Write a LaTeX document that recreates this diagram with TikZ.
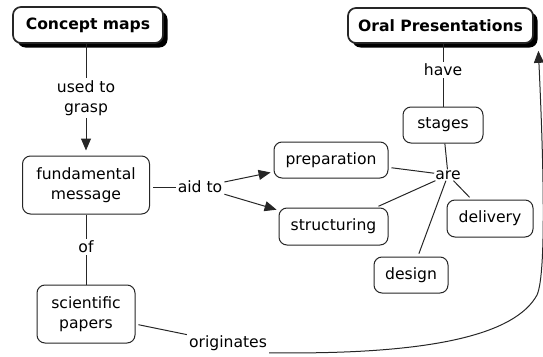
\documentclass[tikz,border=0pt]{standalone}
\usepackage{fontspec}
\setmainfont{DejaVu Sans}
\usetikzlibrary{arrows.meta,shadows,calc}
\begin{document}
\begin{tikzpicture}[x=1pt,y=-1pt,
  font=\fontsize{15.6}{20}\selectfont,
  concept/.style={draw=black!85, line width=1pt, rounded corners=8pt, align=center, inner sep=2pt, fill=white},
  topic/.style={concept, line width=1.7pt, font=\fontsize{15.6}{20}\selectfont\bfseries,
     drop shadow={shadow xshift=4.5pt, shadow yshift=-4.5pt, opacity=1, fill=black}},
  lbl/.style={align=center, inner sep=2pt},
  link/.style={line width=1pt, draw=black!85},
  arr/.style={link, -{Triangle[length=12pt,width=10pt]}}
]
\useasboundingbox (0,0) rectangle (543,356);

% concepts
\node[topic, minimum width=150pt, minimum height=36pt] (cm) at (88,25) {Concept maps};
\node[topic, minimum width=185pt, minimum height=35pt] (op) at (440.5,25.5) {Oral Presentations};
\node[concept, minimum width=80pt, minimum height=36pt] (stages) at (443,125) {stages};
\node[concept, minimum width=127pt, minimum height=58pt] (fm) at (86,185) {fundamental\\message};
\node[concept, minimum width=114pt, minimum height=36pt] (prep) at (331,160) {preparation};
\node[concept, minimum width=109pt, minimum height=37pt] (struct) at (333.5,226.5) {structuring};
\node[concept, minimum width=86pt, minimum height=37pt] (deliv) at (490,218.5) {delivery};
\node[concept, minimum width=74pt, minimum height=36pt] (design) at (411,275) {design};
\node[concept, minimum width=98pt, minimum height=58pt] (sp) at (86,314) {scientific\\papers};

% linking phrases
\node[lbl] (usedto) at (86,98) {used to\\grasp};
\node[lbl] (have) at (443,70) {have};
\node[lbl] (of) at (86,247) {of};
\node[lbl] (aidto) at (200,187) {aid to};
\node[lbl, inner sep=1pt] (are) at (448,175) {are};
\node[lbl] (orig) at (228,343) {originates};

% connectors
\draw[link] (cm.south -| usedto) -- (usedto);
\draw[arr, shorten >=5pt] (usedto) -- (fm);
\draw[link] (op.south -| have) -- (have);
\draw[link] (have) -- (stages);
\draw[link] (fm) -- (of);
\draw[link] (of) -- (sp);
\draw[link, shorten <=3pt] (fm.east |- aidto) -- (aidto);
\draw[arr, shorten >=3pt] (aidto) -- (prep);
\draw[arr, shorten >=2pt] (aidto) -- (struct);
\draw[link] (stages) -- (are);
\draw[link, shorten <=3pt] (prep) -- (are);
\draw[link, shorten <=3pt] (struct) -- (are);
\draw[link, shorten <=3pt] (deliv) -- (are);
\draw[link, shorten <=3pt] (design) -- (are);
\draw[link, shorten <=3pt] (sp) -- (orig);
\coordinate (opin) at ($(op.south east)+(4.5,7)$);
\draw[arr] (orig.south east) .. controls (430,355) and (515,335) .. (537,295)
   .. controls (547,273) and (543,150) .. (opin);
\end{tikzpicture}
\end{document}
